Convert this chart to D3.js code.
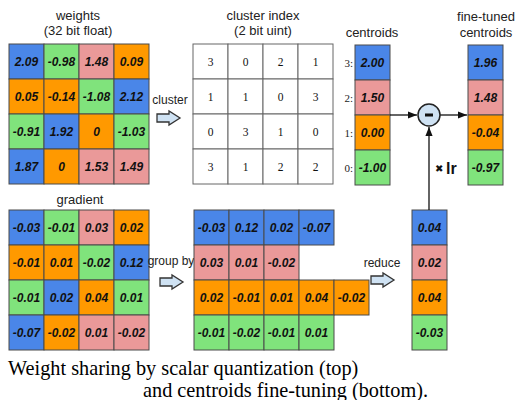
<!DOCTYPE html>
<html><head><meta charset="utf-8">
<script src="https://cdn.jsdelivr.net/npm/d3@7"></script>
<style>body{margin:0;background:#fff}svg{display:block}</style>
</head><body>
<svg id="c" width="515" height="400"></svg>
<script>
// ---- data ----
const weights = [["2.09","-0.98","1.48","0.09"],["0.05","-0.14","-1.08","2.12"],["-0.91","1.92","0","-1.03"],["1.87","0","1.53","1.49"]];
const clusterIndex = [[3,0,2,1],[1,1,0,3],[0,3,1,0],[3,1,2,2]];
const centroidIds = [3,2,1,0];
const centroids = ["2.00","1.50","0.00","-1.00"];
const fineTuned = ["1.96","1.48","-0.04","-0.97"];
const gradient = [["-0.03","-0.01","0.03","0.02"],["-0.01","0.01","-0.02","0.12"],["-0.01","0.02","0.04","0.01"],["-0.07","-0.02","0.01","-0.02"]];
const grouped = [["-0.03","0.12","0.02","-0.07"],["0.03","0.01","-0.02"],["0.02","-0.01","0.01","0.04","-0.02"],["-0.01","-0.02","-0.01","0.01"]];
const reduced = ["0.04","0.02","0.04","-0.03"];
const caption = ["Weight sharing by scalar quantization (top)","and centroids fine-tuning (bottom)."];

const color = d3.scaleOrdinal().domain([3,2,1,0]).range(["#4a86e8","#ea9999","#ff9900","#80e37c"]);

const svg = d3.select("#c");
const CS = 35;
const sans = "'Liberation Sans', Arial, sans-serif";
const serif = "'Liberation Serif', 'Times New Roman', serif";

function bands(n, x0){ return d3.scaleBand().domain(d3.range(n)).range([x0, x0 + n*CS]); }

function grid(rows, x0, y0, opts={}){
  const maxC = d3.max(rows, r=>r.length);
  const xs = bands(maxC, x0), ys = bands(rows.length, y0);
  const g = svg.append("g");
  rows.forEach((r,i)=>{
    r.forEach((cell,j)=>{
      g.append("rect").attr("x", xs(j)).attr("y", ys(i)).attr("width", xs.bandwidth()).attr("height", ys.bandwidth())
        .attr("fill", cell.c==null? "#fff" : color(cell.c)).attr("stroke", opts.stroke||"#4a4a4a").attr("stroke-width", 1);
      g.append("text").attr("x", xs(j)+xs.bandwidth()/2).attr("y", ys(i)+ys.bandwidth()/2)
        .attr("text-anchor","middle").attr("dominant-baseline","central")
        .attr("font-family", opts.font||sans).attr("font-size", opts.size||12)
        .attr("font-weight", opts.weight||"bold").attr("font-style", opts.style||"italic")
        .attr("fill","#111").text(cell.v);
    });
  });
  return {xs, ys};
}

function label(x, y, t, size=13, anchor="middle", fam=sans){
  svg.append("text").attr("x",x).attr("y",y).attr("text-anchor",anchor)
    .attr("font-family",fam).attr("font-size",size).attr("fill","#222").text(t);
}

function blockArrow(x, yc){
  const w = 23, h = 14, bw = 12, bh = 8;
  const p = [[x, yc-bh/2],[x+bw, yc-bh/2],[x+bw, yc-h/2],[x+w, yc],[x+bw, yc+h/2],[x+bw, yc+bh/2],[x, yc+bh/2]];
  svg.append("path").attr("d", d3.line()(p)+"Z").attr("fill","#cfe2f3").attr("stroke","#333").attr("stroke-width",1.3);
}

// weights
label(78, 20, "weights"); label(78, 35, "(32 bit float)");
grid(weights.map((r,i)=>r.map((v,j)=>({v, c: clusterIndex[i][j]}))), 9, 44);

// cluster arrow
label(170, 104, "cluster", 12); blockArrow(157, 118);

// cluster index
label(263, 20, "cluster index"); label(263, 35, "(2 bit uint)");
grid(clusterIndex.map(r=>r.map(v=>({v, c:null}))), 193, 44, {font:serif, weight:"normal", style:"normal", size:11.5, stroke:"#666"});

// centroids
label(372, 37, "centroids");
const cg = grid(centroids.map((v,i)=>[{v, c: centroidIds[i]}]), 355, 45);
centroidIds.forEach((id,i)=>{
  svg.append("text").attr("x",353).attr("y", cg.ys(i)+CS/2).attr("text-anchor","end").attr("dominant-baseline","central")
    .attr("font-family",serif).attr("font-size",11).attr("fill","#222").text(id+":");
});

// fine-tuned
label(486, 21, "fine-tuned"); label(486, 37, "centroids");
grid(fineTuned.map((v,i)=>[{v, c: centroidIds[i]}]), 468, 45);

// gradient
label(80, 204, "gradient");
grid(gradient.map((r,i)=>r.map((v,j)=>({v, c: clusterIndex[i][j]}))), 9, 210);

// group by
label(171, 265, "group by", 12); blockArrow(160, 282);
grid(grouped.map((r,i)=>r.map(v=>({v, c: centroidIds[i]}))), 194, 210);

// reduce
label(382, 267, "reduce", 12); blockArrow(371, 280);
grid(reduced.map((v,i)=>[{v, c: centroidIds[i]}]), 412, 210);

// arrowhead
svg.append("defs").append("marker").attr("id","ah").attr("viewBox","0 0 10 10").attr("refX",10).attr("refY",5)
  .attr("markerWidth",7).attr("markerHeight",7).attr("orient","auto")
  .append("path").attr("d","M0,1 L10,5 L0,9 Z").attr("fill","#111");

// minus operator
const cx = 429, cy = 115, r = 11;
svg.append("line").attr("x1",390).attr("y1",cy).attr("x2",cx-r-1).attr("y2",cy).attr("stroke","#111").attr("stroke-width",1.3).attr("marker-end","url(#ah)");
svg.append("line").attr("x1",cx+r).attr("y1",cy).attr("x2",467).attr("y2",cy).attr("stroke","#111").attr("stroke-width",1.3).attr("marker-end","url(#ah)");
svg.append("line").attr("x1",cx).attr("y1",210).attr("x2",cx).attr("y2",cy+r+1).attr("stroke","#111").attr("stroke-width",1.3).attr("marker-end","url(#ah)");
svg.append("circle").attr("cx",cx).attr("cy",cy).attr("r",r).attr("fill","#cfe2f3").attr("stroke","#222").attr("stroke-width",1.5);
svg.append("rect").attr("x",cx-4).attr("y",cy-1.5).attr("width",8).attr("height",3).attr("fill","#111");

svg.append("text").attr("x",435).attr("y",172).attr("font-family","'DejaVu Sans', sans-serif").attr("font-size",10).attr("font-weight","bold").attr("fill","#111").text("✖");
svg.append("text").attr("x",446).attr("y",174).attr("font-family",sans).attr("font-size",16).attr("font-weight","bold").attr("fill","#111").text("lr");

// caption
svg.append("text").attr("x",8).attr("y",375).attr("font-family",serif).attr("font-size",20.3).attr("fill","#000").text(caption[0]);
svg.append("text").attr("x",143).attr("y",397).attr("font-family",serif).attr("font-size",20.3).attr("fill","#000").text(caption[1]);
</script>
</body></html>
